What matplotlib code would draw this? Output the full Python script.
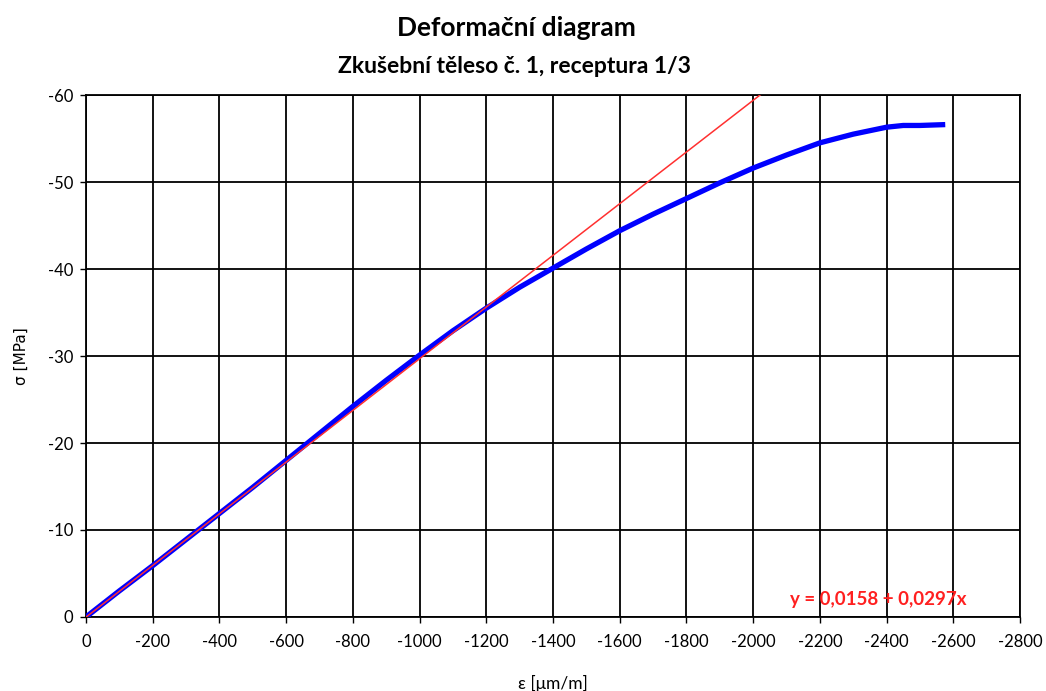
import matplotlib.pyplot as plt

# Data
eps = [0, -50, -100, -200, -300, -400, -500, -600, -700, -800, -900, -1000,
       -1100, -1200, -1300, -1400, -1500, -1600, -1700, -1800, -1900, -2000,
       -2100, -2200, -2300, -2400, -2450, -2500, -2576]
sigma = [0, -1.5, -3.0, -5.9, -8.9, -11.9, -14.9, -18.0, -21.1, -24.2, -27.2, -30.1,
         -32.9, -35.5, -37.9, -40.1, -42.3, -44.4, -46.3, -48.1, -49.9, -51.6,
         -53.1, -54.5, -55.5, -56.3, -56.5, -56.5, -56.6]

# Linear fit y = a + b x
fit_a = 0.0158
fit_b = 0.0297
fit_x = [0, -2100]

x_ticks = list(range(0, -2801, -200))
y_ticks = list(range(0, -61, -10))

plt.rcParams["font.family"] = ["Lato", "DejaVu Sans"]

fig = plt.figure(figsize=(10.46, 6.91), dpi=100)
ax = fig.add_axes([0.0822, 0.1071, 0.9751 - 0.0822, 0.8625 - 0.1071])

ax.plot(eps, sigma, color="#0000ff", lw=3.8, solid_capstyle="butt", zorder=3)
fy = [fit_a + fit_b * x for x in fit_x]
ax.plot(fit_x, fy, color="#ff3030", lw=1.1, zorder=4)

ax.set_xlim(0, -2800)
ax.set_ylim(0, -60)
ax.set_xticks(x_ticks)
ax.set_yticks(y_ticks)
ax.set_xticklabels([str(v) for v in x_ticks])
ax.set_yticklabels([str(v) for v in y_ticks])
ax.tick_params(labelsize=12, length=4, width=1, color="black", pad=5)
ax.tick_params(axis="x", pad=8)

ax.grid(True, color="black", lw=1.3)
for s in ax.spines.values():
    s.set_color("black")
    s.set_linewidth(1.3)

ax.set_xlabel("ε [μm/m]", fontsize=12.5, labelpad=18)
ax.set_ylabel("σ [MPa]", fontsize=11, labelpad=14, family="DejaVu Sans")

fig.text(0.494, 0.959, "Deformační diagram", ha="center", va="center",
         fontsize=19, fontweight="bold")
fig.text(0.492, 0.904, "Zkušební těleso č. 1, receptura 1/3", ha="center", va="center",
         fontsize=16.5, fontweight="bold")

ax.text(0.848, 0.033, "y = 0,0158 + 0,0297x", transform=ax.transAxes, color="#ff2020",
        fontsize=13.5, fontweight="bold", ha="center", va="center", zorder=5)

fig.savefig("out.png", dpi=100)
